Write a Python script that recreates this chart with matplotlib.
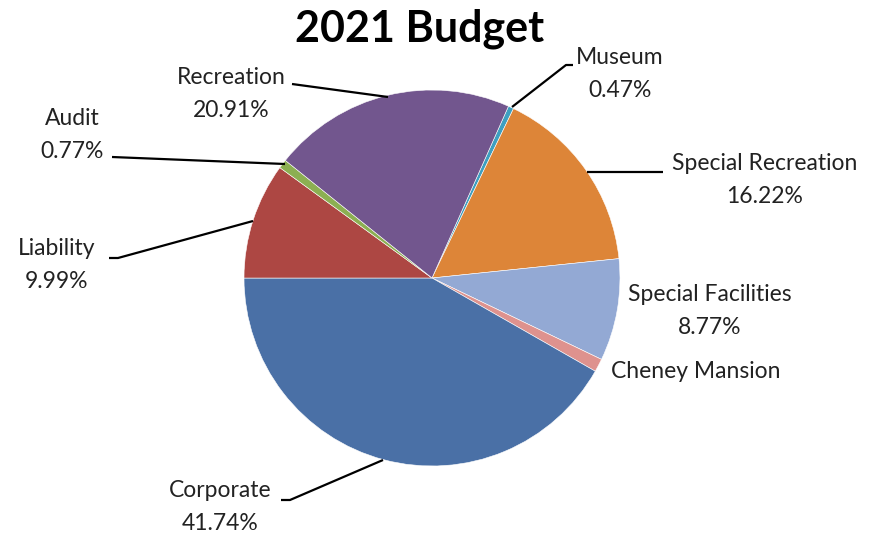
import matplotlib.pyplot as plt

plt.rcParams['font.family'] = ['Lato', 'DejaVu Sans']

# budget shares, clockwise from the museum slice
names = ["Museum", "Special Recreation", "Special Facilities", "Cheney Mansion",
         "Corporate", "Liability", "Audit", "Recreation"]
shares = [0.47, 16.22, 8.77, 1.13, 41.74, 9.99, 0.77, 20.91]
show_pct = [True, True, True, False, True, True, True, True]
colors = ["#3E9FC0", "#DD8538", "#93A9D4", "#DE928E",
          "#4A70A6", "#AD4743", "#8CAF52", "#72568E"]

W, H = 871, 537
cx, cy, R = 432, 278, 188

fig = plt.figure(figsize=(W / 100, H / 100), dpi=100)
ax = fig.add_axes([(cx - R) / W, (H - cy - R) / H, 2 * R / W, 2 * R / H])
ax.pie(shares, colors=colors, startangle=66, counterclock=False, radius=1,
       wedgeprops=dict(linewidth=0.4, edgecolor="white"))
ax.set_xlim(-1, 1)
ax.set_ylim(-1, 1)
ax.set_aspect("equal")
ax.axis("off")


def d(px, py):
    # pixel position -> data units around the pie centre
    return (px - cx) / R, (cy - py) / R


# label centre and leader line path (pixels)
label_pos = {
    "Recreation": (231, 94),
    "Audit": (72, 135),
    "Liability": (57, 265),
    "Corporate": (220, 507),
    "Museum": (620, 74),
    "Special Recreation": (765, 180),
    "Special Facilities": (710, 311),
    "Cheney Mansion": (696, 372),
}
leaders = {
    "Recreation": [(292, 84), (388, 97)],
    "Audit": [(112, 157), (285, 164)],
    "Liability": [(109, 258), (118, 258), (253, 221)],
    "Corporate": [(281, 500), (290, 500), (383, 460)],
    "Museum": [(573, 65), (566, 65), (512, 107)],
    "Special Recreation": [(663, 172), (587, 172)],
}

for name, val, pct in zip(names, shares, show_pct):
    txt = f"{name}\n{val:.2f}%" if pct else name
    x, y = d(*label_pos[name])
    ax.text(x, y, txt, ha="center", va="center", fontsize=16.5,
            color="#222222", linespacing=1.65)
    if name in leaders:
        pts = [d(*p) for p in leaders[name]]
        ax.plot([p[0] for p in pts], [p[1] for p in pts], color="black",
                lw=1.6, clip_on=False, solid_capstyle="butt")

fig.text(420 / W, 1 - 29 / H, "2021 Budget", ha="center", va="center",
         fontsize=31, fontweight="bold", color="black")

fig.savefig("out.png", dpi=100)
